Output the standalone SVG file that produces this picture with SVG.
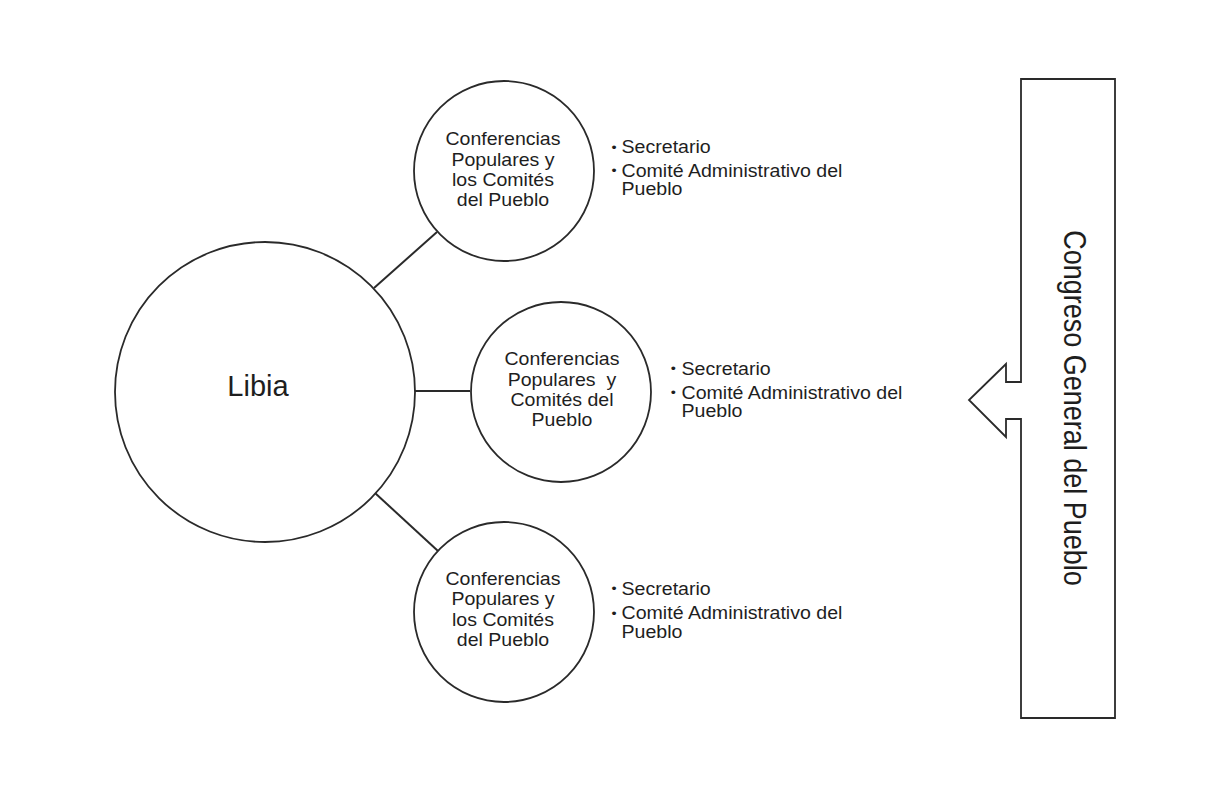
<svg xmlns="http://www.w3.org/2000/svg" width="1209" height="789" viewBox="0 0 1209 789">
<style>
.node{fill:#fff;stroke:#2a2a2a;stroke-width:1.8}
.conn{stroke:#2a2a2a;stroke-width:2;fill:none}
.ct{font-family:"Liberation Sans",Arial,sans-serif;font-size:18px;fill:#1e1e1e;text-anchor:middle}
.bt{font-family:"Liberation Sans",Arial,sans-serif;font-size:17.5px;fill:#1e1e1e}
.bl{font-family:"Liberation Sans",Arial,sans-serif;font-size:13px;fill:#1e1e1e}
</style>
<rect width="1209" height="789" fill="#fff"/>
<g id="connectors">
<line class="conn" x1="374" y1="288" x2="437" y2="232"/>
<line class="conn" x1="415" y1="391" x2="470" y2="391"/>
<line class="conn" x1="375" y1="493" x2="438" y2="551"/>
</g>
<g id="libia">
<circle class="node" cx="265" cy="392" r="150"/>
<text x="258" y="396" font-family="Liberation Sans,Arial,sans-serif" font-size="29" fill="#1e1e1e" text-anchor="middle">Libia</text>
</g>
<g id="conf1">
<circle class="node" cx="504" cy="171" r="90"/>
<g transform="matrix(1.085,0,0,1,-42.75,0)">
<text class="ct" x="503" y="145">Conferencias</text>
<text class="ct" x="503" y="166">Populares y</text>
<text class="ct" x="503" y="186.5">los Comités</text>
<text class="ct" x="503" y="206">del Pueblo</text>
</g>
</g>
<g id="list1" transform="matrix(1.12,0,0,1,-74.58,0)">
<text class="bl" x="612.5" y="152">•</text>
<text class="bt" x="621.5" y="153.5">Secretario</text>
<text class="bl" x="612.5" y="175.5">•</text>
<text class="bt" x="621.5" y="177">Comité Administrativo del</text>
<text class="bt" x="621.5" y="195.5">Pueblo</text>
</g>
<g id="conf2">
<circle class="node" cx="561" cy="392" r="90"/>
<g transform="matrix(1.085,0,0,1,-47.77,0)">
<text class="ct" x="562" y="365">Conferencias</text>
<text class="ct" x="562" y="386" xml:space="preserve">Populares  y</text>
<text class="ct" x="562" y="406">Comités del</text>
<text class="ct" x="562" y="426.5">Pueblo</text>
</g>
</g>
<g id="list2" transform="matrix(1.12,0,0,1,-81.78,0)">
<text class="bl" x="672" y="373.5">•</text>
<text class="bt" x="681.5" y="375">Secretario</text>
<text class="bl" x="672" y="397.5">•</text>
<text class="bt" x="681.5" y="399">Comité Administrativo del</text>
<text class="bt" x="681.5" y="417.5">Pueblo</text>
</g>
<g id="conf3">
<circle class="node" cx="504" cy="612" r="90"/>
<g transform="matrix(1.085,0,0,1,-42.75,0)">
<text class="ct" x="503" y="585">Conferencias</text>
<text class="ct" x="503" y="605.5">Populares y</text>
<text class="ct" x="503" y="626.5">los Comités</text>
<text class="ct" x="503" y="646.5">del Pueblo</text>
</g>
</g>
<g id="list3" transform="matrix(1.12,0,0,1,-74.58,0)">
<text class="bl" x="612.5" y="593.5">•</text>
<text class="bt" x="621.5" y="595">Secretario</text>
<text class="bl" x="612.5" y="618">•</text>
<text class="bt" x="621.5" y="619.5">Comité Administrativo del</text>
<text class="bt" x="621.5" y="638">Pueblo</text>
</g>
<g id="congreso">
<path class="node" d="M1021,79 H1115 V718 H1021 V419 H1006 V437 L969,400 L1006,364 V382 H1021 Z"/>
<text x="0" y="0" transform="translate(1064,408) rotate(90) scale(1,1.15)" font-family="Liberation Sans,Arial,sans-serif" font-size="27" fill="#1e1e1e" text-anchor="middle">Congreso General del Pueblo</text>
</g>
</svg>
